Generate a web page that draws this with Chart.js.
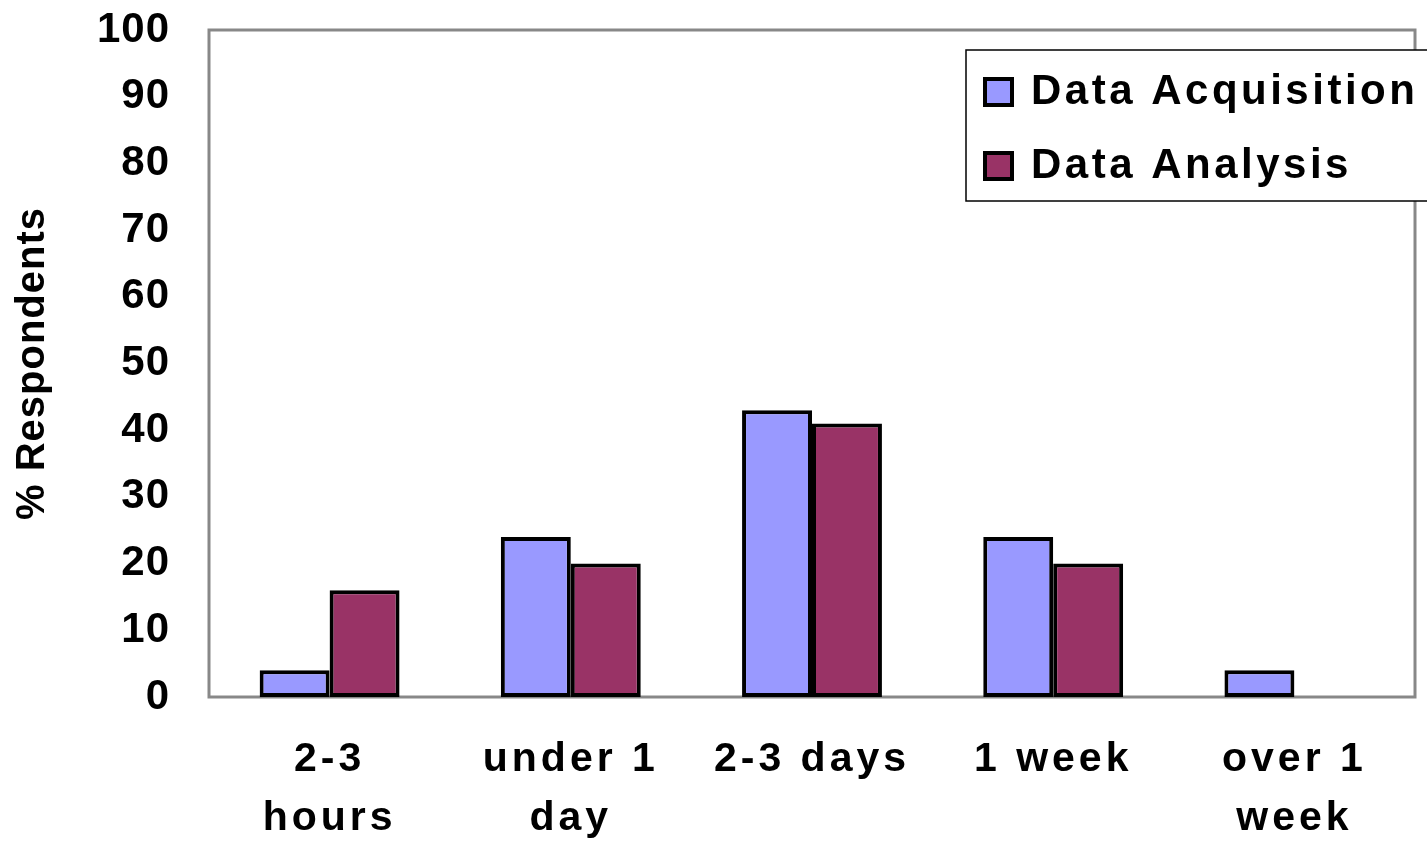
<!DOCTYPE html>
<html>
<head>
<meta charset="utf-8">
<title>% Respondents</title>
<script src="https://cdn.jsdelivr.net/npm/chart.js@4.4.1/dist/chart.umd.min.js"></script>
<style>
  body { margin: 0; background: #fff; }
  #wrap { width: 1427px; height: 841px; }
</style>
</head>
<body>
<div id="wrap"><canvas id="barChart" width="1427" height="841"></canvas></div>
<script>
// ===== DATA =====
const categories = [["2-3", "hours"], ["under 1", "day"], "2-3 days", "1 week", ["over 1", "week"]];
const acquisition = [4, 24, 43, 24, 4];
const analysis = [16, 20, 41, 20, 0];
const yTicks = [0, 10, 20, 30, 40, 50, 60, 70, 80, 90, 100];

const FONT = "'Liberation Sans', Arial, sans-serif";

// gray frame round the plot area
const framePlugin = {
  id: "frame",
  beforeDatasetsDraw(chart) {
    const { ctx, chartArea: a } = chart;
    ctx.save();
    ctx.strokeStyle = "#888888";
    ctx.lineWidth = 3;
    ctx.strokeRect(a.left, a.top, a.right - a.left, a.bottom - a.top);
    ctx.restore();
  },
};

// letter spacing for the axis texts
const spacingPlugin = {
  id: "spacing",
  beforeDraw(chart) {
    const x = chart.scales.x;
    if (!x._spaced) {
      const orig = x.drawLabels;
      x.drawLabels = function (area) {
        chart.ctx.letterSpacing = "4px";
        orig.call(this, area);
        chart.ctx.letterSpacing = "1px";
      };
      x._spaced = true;
    }
    chart.ctx.letterSpacing = "1px";
  },
};

// boxed legend in the top right corner
const boxLegend = {
  id: "boxLegend",
  afterDraw(chart) {
    const ctx = chart.ctx;
    ctx.save();
    ctx.fillStyle = "#fff";
    ctx.strokeStyle = "#000";
    ctx.lineWidth = 1.5;
    ctx.fillRect(966, 50, 480, 151);
    ctx.strokeRect(966, 50, 480, 151);
    ctx.font = "bold 42px " + FONT;
    ctx.letterSpacing = "3.5px";
    ctx.textBaseline = "middle";
    chart.data.datasets.forEach((ds, i) => {
      const cy = 91 + i * 74;
      ctx.fillStyle = ds.backgroundColor;
      ctx.fillRect(985, cy - 12, 27, 26);
      ctx.lineWidth = 4;
      ctx.strokeStyle = "#000";
      ctx.strokeRect(985, cy - 12, 27, 26);
      ctx.fillStyle = "#000";
      ctx.fillText(ds.label, 1031, cy + 1);
    });
    ctx.restore();
  },
};

const ctx = document.getElementById("barChart").getContext("2d");
new Chart(ctx, {
  type: "bar",
  data: {
    labels: categories,
    datasets: [
      {
        label: "Data Acquisition",
        data: acquisition,
        backgroundColor: "#9999FF",
        borderColor: "#000",
        borderWidth: 4,
        borderSkipped: false,
      },
      {
        label: "Data Analysis",
        data: analysis,
        backgroundColor: "#993366",
        borderColor: "#000",
        borderWidth: 4,
        borderSkipped: false,
      },
    ],
  },
  options: {
    responsive: false,
    animation: false,
    layout: { padding: { top: 30, right: 12, left: 0, bottom: 0 } },
    datasets: { bar: { categoryPercentage: 0.58, barPercentage: 1.0 } },
    plugins: {
      legend: { display: false },
      tooltip: { enabled: false },
    },
    scales: {
      x: {
        grid: { display: false, drawTicks: false },
        border: { display: false },
        ticks: {
          color: "#000",
          padding: 34,
          maxRotation: 0,
          autoSkip: false,
          font: { family: FONT, size: 41, weight: "bold", lineHeight: 1.42 },
        },
        afterFit(scale) { scale.height = 144; },
      },
      y: {
        min: 0,
        max: 100,
        // hidden tick marks only keep the labels away from the frame
        grid: { display: false, drawTicks: true, tickLength: 39 },
        border: { display: false },
        afterBuildTicks(scale) { scale.ticks = yTicks.map(v => ({ value: v })); },
        ticks: {
          color: "#000",
          padding: 0,
          font: { family: FONT, size: 42, weight: "bold" },
        },
        title: {
          display: true,
          text: "% Respondents",
          color: "#000",
          padding: { top: 9, bottom: 0 },
          font: { family: FONT, size: 40, weight: "bold", lineHeight: 1.2 },
        },
        afterFit(scale) { scale.width = 209; },
      },
    },
  },
  plugins: [framePlugin, spacingPlugin, boxLegend],
});
</script>
</body>
</html>
